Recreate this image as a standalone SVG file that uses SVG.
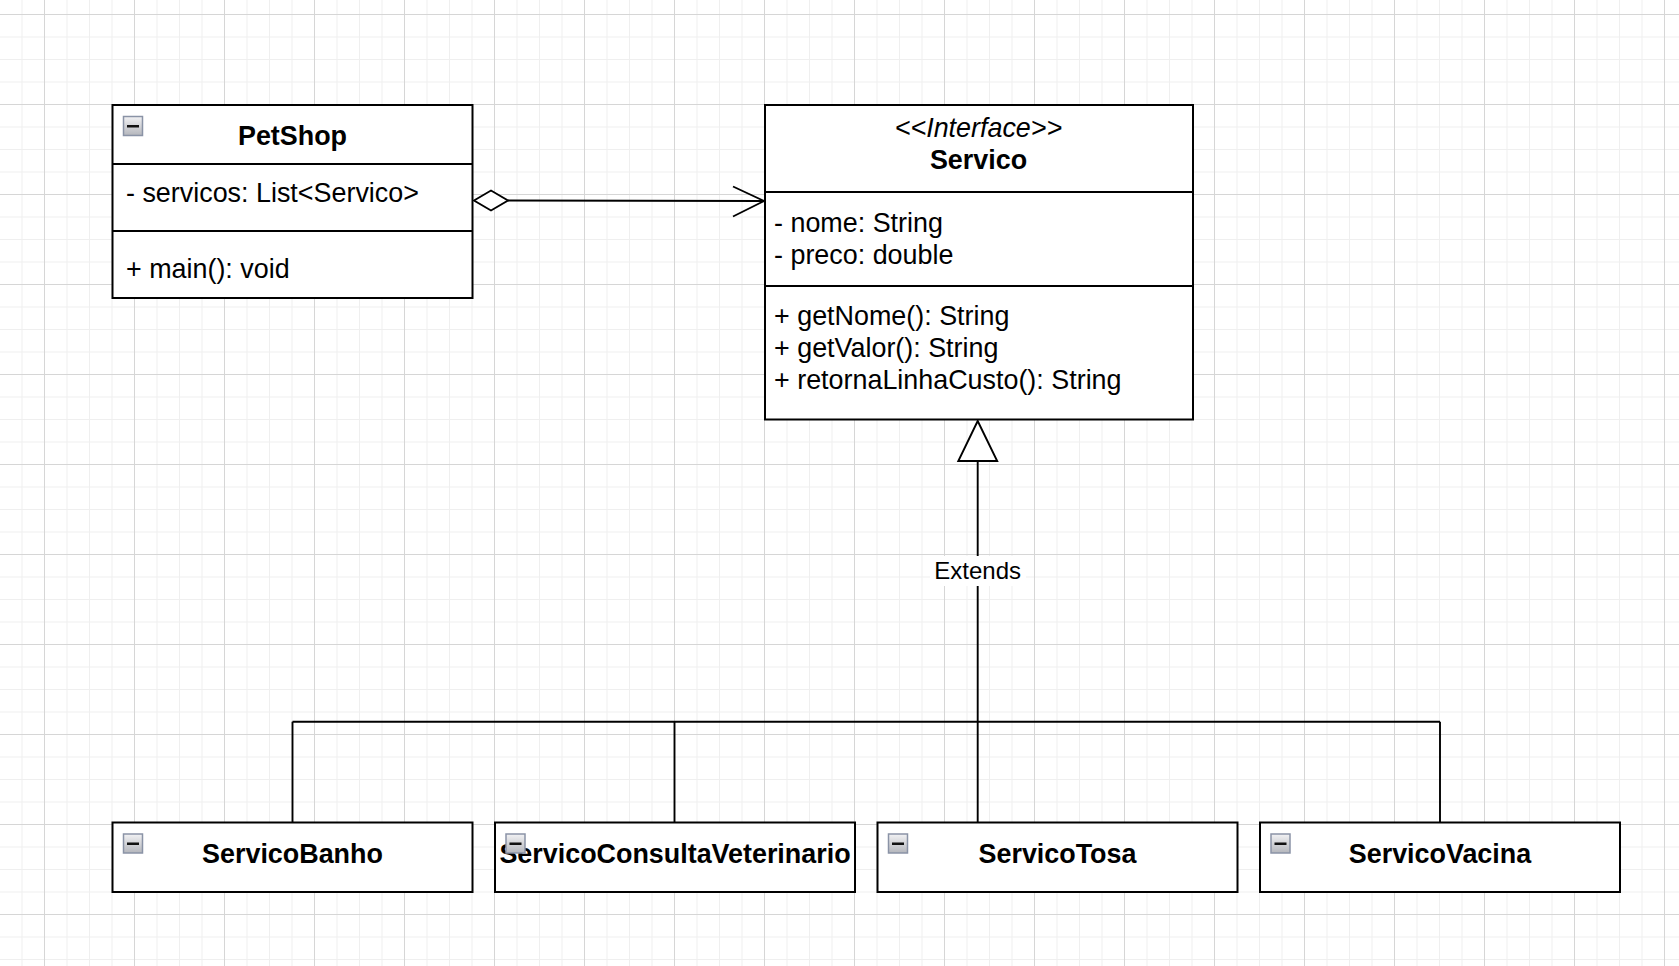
<svg xmlns="http://www.w3.org/2000/svg" width="1679" height="966" viewBox="0 0 1679 966">
<style>
.box{fill:#fff;stroke:#000;stroke-width:2}
.sep{stroke:#000;stroke-width:2}
.t{font-family:"Liberation Sans",Arial,sans-serif;font-size:26.9px;fill:#000}
.b{font-weight:bold}
.c{text-anchor:middle}
.i{font-style:italic}
.ln{fill:none;stroke:#000;stroke-width:1.9}
.lbl{font-family:"Liberation Sans",Arial,sans-serif;font-size:24px;fill:#000;text-anchor:middle}
</style>
<defs>
<pattern id="grid" patternUnits="userSpaceOnUse" x="44" y="14" width="90" height="90">
<path d="M23 0V90M45.5 0V90M68 0V90M0 23H90M0 45.5H90M0 68H90" stroke="#efefef" stroke-width="1"/>
<path d="M0.5 0V90M0 0.5H90" stroke="#d6d6d6" stroke-width="1"/>
</pattern>
<linearGradient id="ig" x1="0" y1="0" x2="0" y2="1">
<stop offset="0" stop-color="#f2f2f4"/>
<stop offset="1" stop-color="#b4b6bc"/>
</linearGradient>
<g id="minus">
<rect x="0.5" y="0.5" width="19" height="19" fill="url(#ig)" stroke="#8a93a6" stroke-width="1.5"/>
<rect x="4" y="9" width="12" height="2.5" fill="#111"/>
</g>
</defs>
<rect width="1679" height="966" fill="#fff"/>
<rect width="1679" height="966" fill="url(#grid)"/>

<g id="connectors">
<line class="ln" x1="508" y1="200.5" x2="764" y2="201"/>
<polygon points="474,200.5 491,190.5 508,200.5 491,210.5" fill="#fff" stroke="#000" stroke-width="1.9"/>
<polyline class="ln" points="733,186.5 764,201 733,216.5"/>
<line class="ln" x1="977.7" y1="461" x2="977.7" y2="822.5"/>
<polygon points="977.7,421 958.3,461 997.2,461" fill="#fff" stroke="#000" stroke-width="1.9"/>
<line class="ln" x1="292.5" y1="721.7" x2="1440" y2="721.7"/>
<line class="ln" x1="292.5" y1="721.7" x2="292.5" y2="822.5"/>
<line class="ln" x1="674.5" y1="721.7" x2="674.5" y2="822.5"/>
<line class="ln" x1="1440" y1="721.7" x2="1440" y2="822.5"/>
<rect x="930" y="556" width="96" height="30" fill="#fff"/>
<text class="lbl" x="977.7" y="578.5">Extends</text>
</g>

<g id="PetShop">
<rect class="box" x="112.5" y="105" width="360" height="193"/>
<line class="sep" x1="112.5" y1="164" x2="472.5" y2="164"/>
<line class="sep" x1="112.5" y1="231" x2="472.5" y2="231"/>
<use href="#minus" x="123" y="116"/>
<text class="t b c" x="292.5" y="145">PetShop</text>
<text class="t" x="126" y="202">- servicos: List&lt;Servico&gt;</text>
<text class="t" x="126" y="278">+ main(): void</text>
</g>

<g id="Servico">
<rect class="box" x="765" y="105" width="428" height="314.5"/>
<line class="sep" x1="765" y1="192" x2="1193" y2="192"/>
<line class="sep" x1="765" y1="286" x2="1193" y2="286"/>
<text class="t i c" x="978.5" y="136.5">&lt;&lt;Interface&gt;&gt;</text>
<text class="t b c" x="978.5" y="169">Servico</text>
<text class="t" x="774" y="231.5">- nome: String</text>
<text class="t" x="774" y="263.5">- preco: double</text>
<text class="t" x="774" y="325">+ getNome(): String</text>
<text class="t" x="774" y="357">+ getValor(): String</text>
<text class="t" x="774" y="389">+ retornaLinhaCusto(): String</text>
</g>

<g id="ServicoBanho">
<rect class="box" x="112.5" y="822.5" width="360" height="69.5"/>
<use href="#minus" x="123" y="833.5"/>
<text class="t b c" x="292.5" y="862.5">ServicoBanho</text>
</g>

<g id="ServicoConsultaVeterinario">
<rect class="box" x="495" y="822.5" width="360" height="69.5"/>
<text class="t b c" x="675" y="862.5">ServicoConsultaVeterinario</text>
<use href="#minus" x="505.5" y="833.5"/>
</g>

<g id="ServicoTosa">
<rect class="box" x="877.5" y="822.5" width="360" height="69.5"/>
<use href="#minus" x="888" y="833.5"/>
<text class="t b c" x="1057.5" y="862.5">ServicoTosa</text>
</g>

<g id="ServicoVacina">
<rect class="box" x="1260" y="822.5" width="360" height="69.5"/>
<use href="#minus" x="1270.5" y="833.5"/>
<text class="t b c" x="1440" y="862.5">ServicoVacina</text>
</g>
</svg>
